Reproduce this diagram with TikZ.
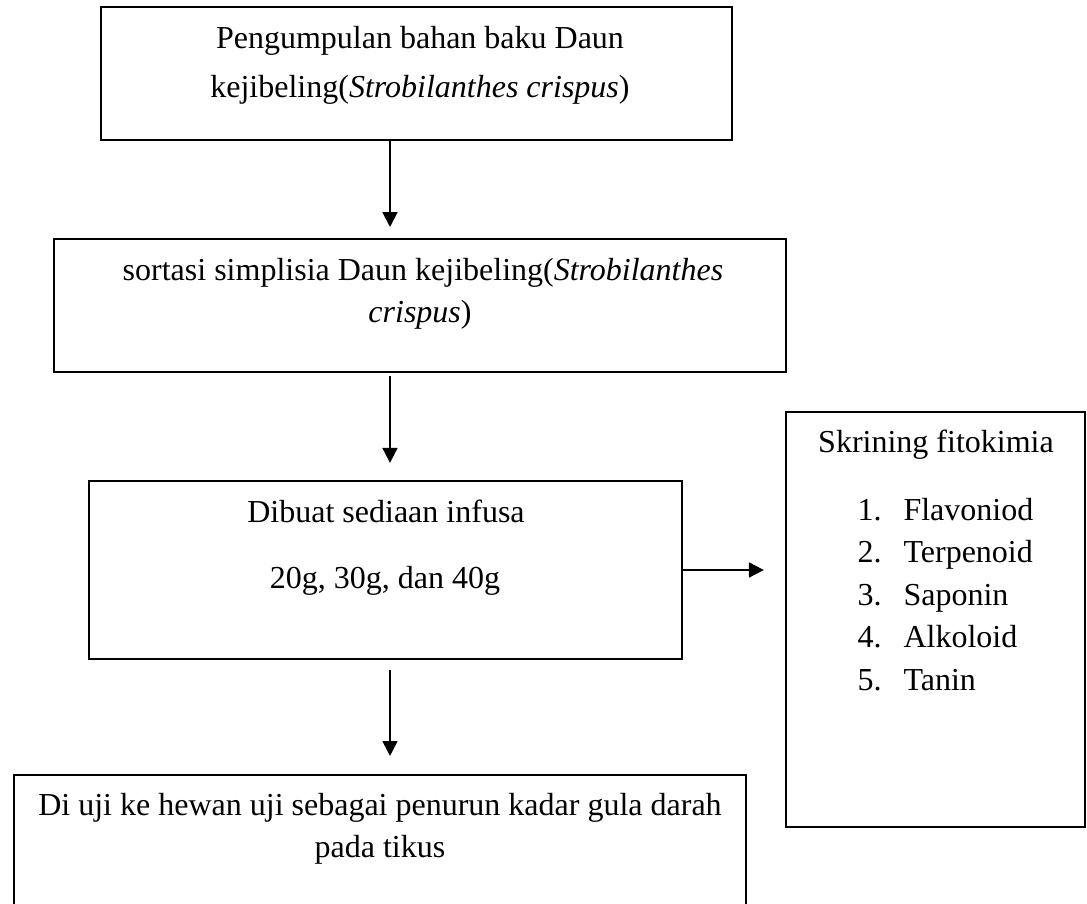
\documentclass[tikz,border=0pt]{standalone}
\usepackage{fontspec}
\setmainfont{Liberation Serif}
\usetikzlibrary{arrows.meta}
\begin{document}
\begin{tikzpicture}[x=0.375pt,y=-0.375pt,
  box/.style={draw, line width=0.8pt, inner sep=0pt, rectangle},
  lbl/.style={anchor=base, inner sep=0pt, font=\fontsize{12}{14}\selectfont},
  lst/.style={anchor=base west, inner sep=0pt, font=\fontsize{12}{14}\selectfont},
  arr/.style={-{Triangle[length=5.6pt,width=5.6pt]}, line width=0.7pt}]
\clip (0,0) rectangle (1087,903);
\fill[white] (0,0) rectangle (1087,903);
% boxes
\node[box, minimum width=236.625pt, minimum height=49.875pt] (b1) at (416.5,73.5) {};
\node[box, minimum width=274.5pt, minimum height=49.875pt] (b2) at (420,305.5) {};
\node[box, minimum width=222.375pt, minimum height=66.75pt] (b3) at (385.5,570) {};
\node[box, minimum width=112.125pt, minimum height=155.625pt] (b4) at (935.5,619.5) {};
\node[box, minimum width=274.5pt, minimum height=60pt] (b5) at (380,855) {};
% texts
\node[lbl] (t1a) at (420,48) {Pengumpulan bahan baku Daun};
\node[lbl] (t1b) at (420,97) {kejibeling(\textit{Strobilanthes crispus})};
\node[lbl] (t2a) at (423,280) {sortasi simplisia Daun kejibeling(\textit{Strobilanthes}};
\node[lbl] (t2b) at (420,322) {\textit{crispus})};
\node[lbl] (t3a) at (386,522) {Dibuat sediaan infusa};
\node[lbl] (t3b) at (385,588) {20g, 30g, dan 40g};
\node[lbl] (t4) at (936,452) {Skrining fitokimia};
\node[lst] (n1) at (857,520) {1.};
\node[lst] (l1) at (903,520) {Flavoniod};
\node[lst] (n2) at (857,562.5) {2.};
\node[lst] (l2) at (903,562.5) {Terpenoid};
\node[lst] (n3) at (857,605) {3.};
\node[lst] (l3) at (903,605) {Saponin};
\node[lst] (n4) at (857,647.5) {4.};
\node[lst] (l4) at (903,647.5) {Alkoloid};
\node[lst] (n5) at (857,690) {5.};
\node[lst] (l5) at (903,690) {Tanin};
\node[lbl] (t5a) at (380,815) {Di uji ke hewan uji sebagai penurun kadar gula darah};
\node[lbl] (t5b) at (380,857) {pada tikus};
% connectors
\coordinate (ax) at (390,0);
\draw[arr, shorten >=4.1pt] (b1.south -| ax) -- (b2.north -| ax);
\draw[arr, shorten <=1.1pt, shorten >=6.4pt] (b2.south -| ax) -- (b3.north -| ax);
\draw[arr, shorten <=3.75pt, shorten >=6.75pt] (b3.south -| ax) -- (b5.north -| ax);
\draw[arr, shorten >=7.9pt] (b3.east) -- (b3.east -| b4.west);
\end{tikzpicture}
\end{document}
